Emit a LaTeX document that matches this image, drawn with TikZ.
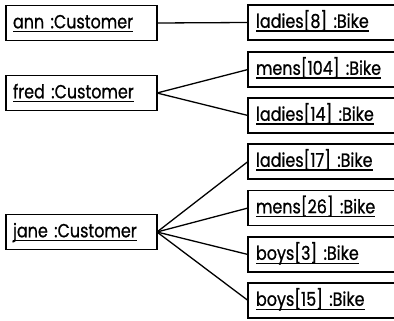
\documentclass[tikz,border=0pt]{standalone}
\usepackage{fontspec}
\setmainfont[FakeStretch=0.84, FakeBold=0.8]{Poppins}
\newsavebox{\ulinbox}
\newcommand{\ulin}[1]{\sbox{\ulinbox}{#1}\rlap{\rule[-4pt]{\wd\ulinbox}{1.3pt}}\usebox{\ulinbox}}
\begin{document}
\begin{tikzpicture}[x=1pt, y=-1pt]
\tikzset{ inner ysep=0pt, outer sep=0pt,
  obj/.style={draw, line width=1.7pt, anchor=west, minimum height=35pt,
    text height=16pt, text depth=5.4pt,
    inner xsep=7pt, align=left, font=\fontsize{19}{19}\selectfont},
  cust/.style={obj, text width=137pt},
  bike/.style={obj, text width=250pt, inner xsep=8pt},
  link/.style={line width=1.3pt},
}

\useasboundingbox (0,0) rectangle (394,321);

%\draw [lightgray, dashed](0,0) grid[step=10] (394,321);

\node [cust] (ann)  at (6,23)  {\ulin{ann :Customer}};
\node [cust] (fred) at (6,93)  {\ulin{fred :Customer}};
\node [cust] (jane) at (6,232) {\ulin{jane :Customer}};

\node [bike] (ladies8)   at (248,22.5)  {\ulin{ladies[8] :Bike}};
\node [bike] (mens104)   at (248,69.5)  {\ulin{mens[104] :Bike}};
\node [bike] (ladies14)  at (248,115.5) {\ulin{ladies[14] :Bike}};
\node [bike] (ladies17)  at (248,161.5) {\ulin{ladies[17] :Bike}};
\node [bike] (mens26)    at (248,208)   {\ulin{mens[26] :Bike}};
\node [bike] (boys3)     at (248,254.5) {\ulin{boys[3] :Bike}};
\node [bike] (boys15)    at (248,300.5) {\ulin{boys[15] :Bike}};

\draw [link] (ann.east)  -- (ladies8.west);
\draw [link] (fred.east) -- (mens104.west);
\draw [link] (fred.east) -- (ladies14.west);
\draw [link] (jane.east) -- (ladies17.west);
\draw [link] (jane.east) -- (mens26.west);
\draw [link] (jane.east) -- (boys3.west);
\draw [link] (jane.east) -- (boys15.west);
\end{tikzpicture}
\end{document}
